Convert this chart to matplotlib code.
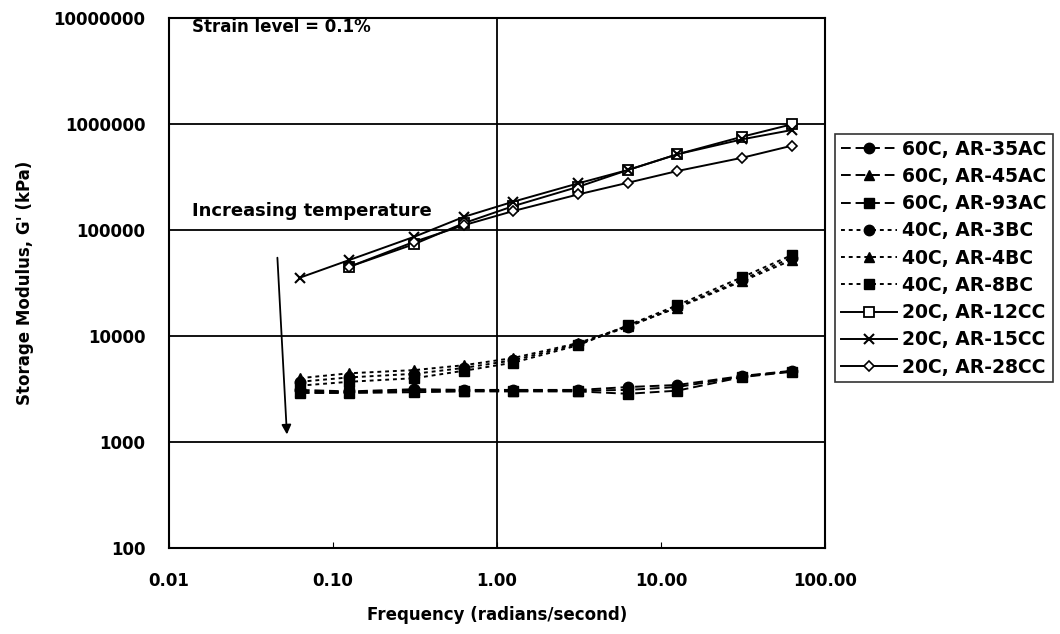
import matplotlib
matplotlib.use("Agg")
import matplotlib.pyplot as plt
from matplotlib.ticker import FixedLocator, FixedFormatter, NullLocator

plt.rcParams['font.family'] = ['DejaVu Sans']
plt.rcParams['font.weight'] = 'bold'

# Frequencies (rad/s)
freq = [0.0628, 0.1257, 0.314, 0.628, 1.257, 3.14, 6.28, 12.57, 31.4, 62.8]

# 60C series
ar35ac = [3100, 3000, 3150, 3100, 3100, 3100, 3300, 3450, 4200, 4700]
ar45ac = [3000, 2950, 3050, 3050, 3050, 3050, 3100, 3300, 4150, 4650]
ar93ac = [2900, 2900, 2950, 3000, 3000, 3000, 2850, 3050, 4100, 4600]

# 40C series
ar3bc = [3700, 4070, 4400, 5000, 5900, 8400, 12200, 18700, 34000, 55000]
ar4bc = [4000, 4450, 4770, 5300, 6200, 8600, 12400, 18500, 33000, 52000]
ar8bc = [3400, 3700, 4000, 4700, 5600, 8200, 12600, 19500, 36000, 58000]

# 20C series
freq_12cc = freq[1:]
ar12cc = [45000, 73800, 116000, 168000, 256000, 368000, 518000, 760000, 993000]
freq_15cc = freq
ar15cc = [35500, 52100, 86500, 133000, 185000, 276000, 368000, 518000, 718000, 877000]
freq_28cc = freq[1:]
ar28cc = [45000, 77600, 111000, 151000, 217000, 279000, 360000, 481000, 624000]

y_ticks = [100, 1000, 10000, 100000, 1000000, 10000000]
y_ticklabels = ['100', '1000', '10000', '100000', '1000000', '10000000']
x_ticks = [0.01, 0.1, 1, 10, 100]
x_ticklabels = ['0.01', '0.10', '1.00', '10.00', '100.00']

fig = plt.figure(figsize=(10.6, 6.34), dpi=100)
ax = fig.add_axes([169/1060, 1 - 548/634, (825-169)/1060, (548-18)/634])
ax.set_xscale('log')
ax.set_yscale('log')
ax.set_xlim(0.01, 100)
ax.set_ylim(100, 10000000)

lw = 1.4
dash60 = (0, (5, 2.5))
dash40 = (0, (2, 2))
ms = 7.5

ax.plot(freq, ar35ac, linestyle=dash60, color='black', lw=lw, marker='o', ms=ms, mfc='black', mec='black', label='60C, AR-35AC')
ax.plot(freq, ar45ac, linestyle=dash60, color='black', lw=lw, marker='^', ms=ms, mfc='black', mec='black', label='60C, AR-45AC')
ax.plot(freq, ar93ac, linestyle=dash60, color='black', lw=lw, marker='s', ms=ms-1, mfc='black', mec='black', label='60C, AR-93AC')
ax.plot(freq, ar3bc, linestyle=dash40, color='black', lw=lw, marker='o', ms=ms, mfc='black', mec='black', label='40C, AR-3BC')
ax.plot(freq, ar4bc, linestyle=dash40, color='black', lw=lw, marker='^', ms=ms, mfc='black', mec='black', label='40C, AR-4BC')
ax.plot(freq, ar8bc, linestyle=dash40, color='black', lw=lw, marker='s', ms=ms-1, mfc='black', mec='black', label='40C, AR-8BC')
ax.plot(freq_12cc, ar12cc, linestyle='-', color='black', lw=lw, marker='s', ms=7, mfc='white', mec='black', mew=1.3, label='20C, AR-12CC')
ax.plot(freq_15cc, ar15cc, linestyle='-', color='black', lw=lw, marker='x', ms=7, mec='black', mew=1.5, label='20C, AR-15CC')
ax.plot(freq_28cc, ar28cc, linestyle='-', color='black', lw=lw, marker='D', ms=5, mfc='white', mec='black', mew=1.2, label='20C, AR-28CC')

# grid
for yv in [1000, 10000, 100000, 1000000]:
    ax.axhline(yv, color='black', lw=1.3, zorder=0)
ax.axvline(1, color='black', lw=1.3, zorder=0)

for s in ax.spines.values():
    s.set_color('black')
    s.set_linewidth(1.5)

ax.yaxis.set_major_locator(FixedLocator(y_ticks))
ax.yaxis.set_major_formatter(FixedFormatter(y_ticklabels))
ax.yaxis.set_minor_locator(NullLocator())
ax.xaxis.set_major_locator(FixedLocator(x_ticks))
ax.xaxis.set_major_formatter(FixedFormatter(x_ticklabels))
ax.xaxis.set_minor_locator(NullLocator())
ax.tick_params(axis='y', length=0, pad=17, labelsize=12)
ax.tick_params(axis='x', direction='in', length=4, pad=17, labelsize=12)
for t in ax.get_xticklabels() + ax.get_yticklabels():
    t.set_fontweight('bold')

ax.set_xlabel('Frequency (radians/second)', fontsize=12, fontweight='bold', labelpad=12)
ax.set_ylabel("Storage Modulus, G' (kPa)", fontsize=12, fontweight='bold', labelpad=14)

ax.text(0.035, 0.983, 'Strain level = 0.1%', transform=ax.transAxes, fontsize=12,
        fontweight='bold', va='center', ha='left')
ax.text(0.035, 0.636, 'Increasing temperature', transform=ax.transAxes, fontsize=13,
        fontweight='bold', va='center', ha='left')
ax.annotate('', xy=(0.180, 0.209), xytext=(0.165, 0.553), xycoords='axes fraction',
            textcoords='axes fraction',
            arrowprops=dict(arrowstyle='-|>', color='black', lw=1.3, mutation_scale=14))

leg = ax.legend(loc='upper left', bbox_to_anchor=(835/1060, 1 - 134/634),
                bbox_transform=fig.transFigure, frameon=True, fancybox=False,
                edgecolor='black', fontsize=13.5, handlelength=3.0, handletextpad=0.3,
                labelspacing=0.44, borderpad=0.3, borderaxespad=0)
leg.get_frame().set_linewidth(1.2)
for t in leg.get_texts():
    t.set_fontweight('bold')

fig.savefig('out.png', dpi=100)
